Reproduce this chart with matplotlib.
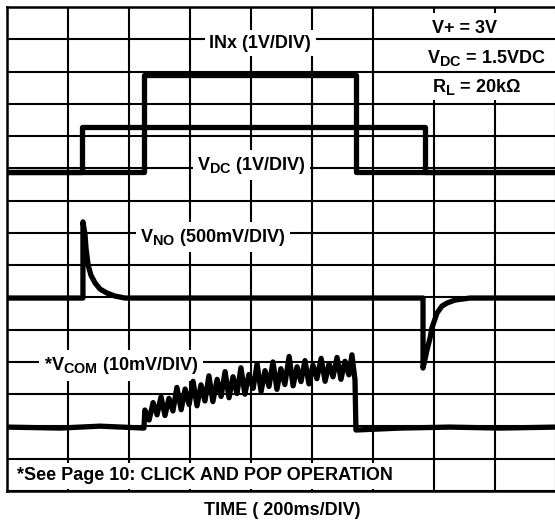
import numpy as np
import matplotlib.pyplot as plt
import matplotlib._mathtext as mathtext_internals
from matplotlib.patches import Rectangle

plt.rcParams['font.family'] = ['Liberation Sans', 'DejaVu Sans']
plt.rcParams['font.weight'] = 'bold'
plt.rcParams['mathtext.fontset'] = 'custom'
plt.rcParams['mathtext.bf'] = 'Liberation Sans:bold'
plt.rcParams['mathtext.rm'] = 'Liberation Sans'
plt.rcParams['mathtext.it'] = 'Liberation Sans:italic'
# subscripts in the scope labels are only a little smaller than the letters
mathtext_internals.SHRINK_FACTOR = 0.8

# time axis in ms, 200ms/DIV, 9 divisions on screen
inx_t = [0, 449, 449, 1144, 1144, 1800]
inx_v = [0, 0, 3.0, 3.0, 0, 0]            # V, 1V/DIV

vdc_t = [0, 246, 246, 1370, 1370, 1800]
vdc_v = [0, 0, 1.4, 1.4, 0, 0]            # V, 1V/DIV

vno_t = [0, 249, 249, 256, 259, 266, 275, 289, 305, 328, 354, 387,
         1364, 1364, 1370, 1377, 1387, 1393, 1410, 1426, 1443, 1469, 1518, 1800]
vno_mv = [0, 0, 1180, 976, 775, 511, 356, 232, 139, 77, 31, 0,
          0, -1085, -960, -806, -620, -465, -232, -124, -77, -31, 0, 0]   # mV, 500mV/DIV

vcom_t = [0, 175, 305, 449, 452,
          466, 479, 492, 505, 518, 531, 544, 557, 571, 584, 597, 610, 623, 636, 649,
          662, 675, 689, 702, 715, 728, 741, 754, 767, 780, 793, 807, 820, 833, 846,
          859, 872, 885, 898, 911, 925, 938, 951, 964, 977, 990, 1003, 1016, 1030, 1043,
          1056, 1069, 1082, 1095, 1108, 1121,
          1131, 1141, 1144, 1289, 1452, 1616, 1800]
vcom_mv = [0, -0.3, 0.3, -0.3, 5.3,
           2.2, 7.6, 3.8, 9.4, 3.6, 8.9, 5.0, 12.3, 5.4, 11.8, 7.0, 14.2, 6.6, 13.1, 8.1,
           15.9, 7.9, 14.8, 9.5, 17.2, 9.1, 15.6, 10.4, 18.4, 10.2, 16.3, 12.0, 19.6, 11.0, 17.5,
           12.6, 20.2, 11.7, 18.1, 13.2, 21.9, 12.8, 18.7, 14.1, 20.6, 13.4, 19.2, 15.0, 21.3, 14.2,
           19.6, 15.6, 21.6, 14.8, 20.4, 16.2,
           22.4, 14.6, -0.9, -0.3, 0, -0.3, 0]   # mV, 10mV/DIV

# screen position of each trace's zero (in divisions from bottom)
off_in = 9.88
off_no = 5.98
off_com = 1.98

fig = plt.figure(figsize=(5.55, 5.23), dpi=100)
ax = fig.add_axes([7 / 555, 32 / 523, 549 / 555, 484 / 523])
ax.set_xlim(0, 1800)
ax.set_ylim(0, 15)
ax.set_xticks(np.arange(0, 1801, 200))
ax.set_yticks(np.arange(0, 16))
ax.tick_params(length=0, labelbottom=False, labelleft=False)
ax.grid(True, color='black', lw=1.5)
for s in ax.spines.values():
    s.set_linewidth(1.8)

lw = 3.8
ax.plot(inx_t, off_in + np.array(inx_v) / 1.0, color='black', lw=lw, zorder=4)
ax.plot(vdc_t, off_in + np.array(vdc_v) / 1.0, color='black', lw=lw, zorder=4)
ax.plot(vno_t, off_no + np.array(vno_mv) / 500.0, color='black', lw=lw, zorder=4)
ax.plot(vcom_t, off_com + np.array(vcom_mv) / 10.0, color='black', lw=lw, zorder=4)

# conditions box, top right
ax.add_patch(Rectangle((1370, 12.12), 500, 2.69, fc='white', ec='none', zorder=2.5))
ax.hlines([13, 14], 1370, 1800, color='black', lw=1.5, zorder=2.6)

box = dict(boxstyle='square,pad=0.25', fc='white', ec='none')
fs = 13
ax.text(830, 13.73, 'INx (1V/DIV)', ha='center', va='baseline', fontsize=fs, bbox=box, zorder=3)
ax.text(802, 9.95, r'$\mathbf{V_{DC}}$ (1V/DIV)', ha='center', va='baseline', fontsize=fs, bbox=box, zorder=3)
ax.text(675, 7.72, r'$\mathbf{V_{NO}}$ (500mV/DIV)', ha='center', va='baseline', fontsize=fs, bbox=box, zorder=3)
ax.text(374, 3.75, r'*$\mathbf{V_{COM}}$ (10mV/DIV)', ha='center', va='baseline', fontsize=fs, bbox=box, zorder=3)
ax.text(33, 0.34, '*See Page 10: CLICK AND POP OPERATION', ha='left', va='baseline', fontsize=fs, bbox=box, zorder=3)

ax.text(1394, 14.19, 'V+ = 3V', ha='left', va='baseline', fontsize=fs, zorder=3)
ax.text(1377, 13.26, r'$\mathbf{V_{DC}}$ = 1.5VDC', ha='left', va='baseline', fontsize=fs, zorder=3)
ax.text(1394, 12.36, r'$\mathbf{R_L}$ = 20k$\Omega$', ha='left', va='baseline', fontsize=fs, zorder=3)

fig.text(282 / 555, 1 - 515 / 523, 'TIME ( 200ms/DIV)', ha='center', va='baseline', fontsize=fs)

fig.savefig('out.png', dpi=100)
